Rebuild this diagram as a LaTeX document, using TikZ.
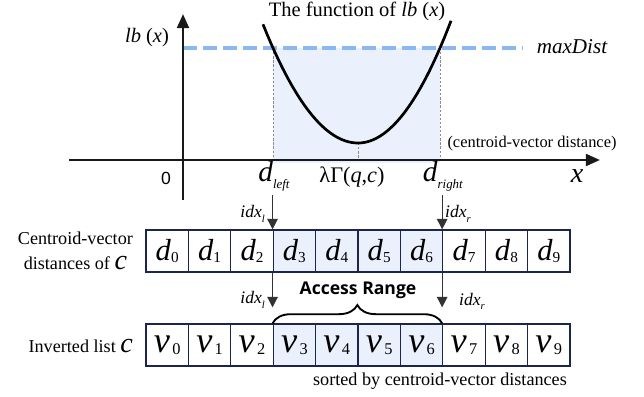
\documentclass[tikz,border=0pt]{standalone}
\usepackage{fontspec}
\setmainfont{Liberation Serif}
\newfontfamily\rangefont{Open Sans}
\newfontfamily\zerofont{Liberation Sans}
\usetikzlibrary{positioning,arrows.meta,decorations.pathreplacing}
\definecolor{navy}{HTML}{1B2550}
\definecolor{cellblue}{HTML}{EAF1FD}
\definecolor{distblue}{HTML}{8AB8F5}
\newcommand{\lowsub}[3][-1.5pt]{\raisebox{#1}{\fontsize{#2}{#2}\selectfont #3}}

\begin{document}
\begin{tikzpicture}[x=0.03cm,y=-0.03cm,
  cell/.style={draw=navy,line width=1.1pt,minimum width=1.272cm,minimum height=1.26cm,inner sep=0pt},
  arr/.style={-{Triangle[length=9pt,width=9pt]},line width=1.1pt,draw=black!80},
  axis/.style={-{Triangle[length=12pt,width=10pt]},line width=2.3pt,draw=black!90},
  guide/.style={draw=black!45,line width=0.6pt,dash pattern=on 2pt off 1.5pt},
  idx/.style={font=\fontsize{15}{15}\selectfont,inner sep=2pt},
  lbl/.style={font=\fontsize{15.5}{18}\selectfont}]
\useasboundingbox (0,0) rectangle (644,397);
% lower-bound plot
\fill[cellblue] (273,48) rectangle (440,163);
\draw[guide] (273,48) -- (273,160);
\draw[guide] (440,48) -- (440,160);
\draw[guide] (358,143) -- (358,160);
\draw[distblue,line width=2.6pt,dash pattern=on 12pt off 5pt] (183,48) -- (522,48);
\draw[axis] (69,160) -- (600,160);
\draw[axis] (183,200) -- (183,14);
\draw[line width=2.3pt] plot[domain=263:358,samples=40] (\x,{143-0.01315*(\x-358)*(\x-358)});
\draw[line width=2.3pt] plot[domain=358:451,samples=40] (\x,{143-0.01413*(\x-358)*(\x-358)});
\node[font=\fontsize{17.5}{17.5}\selectfont] (title) at (357,11) {The function of \textit{lb} (\textit{x})};
\node[font=\fontsize{17.5}{17.5}\selectfont] (ylabel) at (147,38) {\textit{lb} (\textit{x})};
\node[font=\fontsize{18}{18}\selectfont\itshape] (maxdist) at (572,47) {maxDist};
\node[font=\fontsize{14}{14}\selectfont] (unit) at (532,144) {(centroid-vector distance)};
\node[font=\zerofont\fontsize{15}{15}\selectfont] (zero) at (166,178) {0};
\node[font=\fontsize{24}{24}\selectfont\itshape] (xlabel) at (577,176) {x};
\node[font=\fontsize{25}{25}\selectfont] (dleft) at (274,176) {\textit{d}\lowsub[-6pt]{11}{\textit{left}}};
\node[font=\fontsize{19}{19}\selectfont] (lambda) at (352,177) {λΓ(\textit{q},\textit{c})};
\node[font=\fontsize{25}{25}\selectfont] (dright) at (443,176) {\textit{d}\lowsub[-6pt]{11}{\textit{right}}};
% the two arrays
\foreach \i/\shade in {0/white,1/white,2/white,3/cellblue,4/cellblue,5/cellblue,6/cellblue,7/white,8/white,9/white}{
  \node[cell,fill=\shade] (d\i) at ({167.2+42.4*\i},251) {\fontsize{26}{26}\selectfont\textit{d}\lowsub{13}{\i}};
  \node[cell,fill=\shade] (v\i) at ({167.2+42.4*\i},345) {\fontsize{31}{31}\selectfont\textit{v}\kern2pt\lowsub{14}{\i}};
}
\node[lbl,align=center,anchor=east] (distlabel) at (137,251) {Centroid-vector\\[3pt]distances of {\fontsize{24}{18}\selectfont\textit{c}}};
\node[lbl,anchor=east] (listlabel) at (137,346) {Inverted list {\fontsize{24}{18}\selectfont\textit{c}}};
\node[lbl] (sorted) at (440,381) {sorted by centroid-vector distances};
% index arrows
\draw[arr] (dleft.south -| d3.north west) -- node[pos=.55,left,idx,xshift=-4pt]{\textit{idx}\lowsub[-4pt]{9}{\textit{l}}} (d3.north west);
\draw[arr] (dright.south -| d7.north west) -- node[pos=.55,right,idx]{\textit{idx}\lowsub[-4pt]{9}{\textit{r}}} (d7.north west);
\draw[arr,shorten >=0.48cm] (d3.south west) -- node[pos=.54,left,idx,xshift=-4pt]{\textit{idx}\lowsub[-4pt]{9}{\textit{l}}} (v3.north west);
\draw[arr,shorten >=0.48cm] (d7.south west) -- node[pos=.57,right,idx,xshift=12pt]{\textit{idx}\lowsub[-4pt]{9}{\textit{r}}} (v7.north west);
\draw[line width=1.6pt,decorate,decoration={brace,amplitude=0.55cm}] (v3.north west) -- (v7.north west);
\node[font=\rangefont\bfseries\fontsize{15}{15}\selectfont] (range) at (358,290) {Access Range};
\end{tikzpicture}
\end{document}
